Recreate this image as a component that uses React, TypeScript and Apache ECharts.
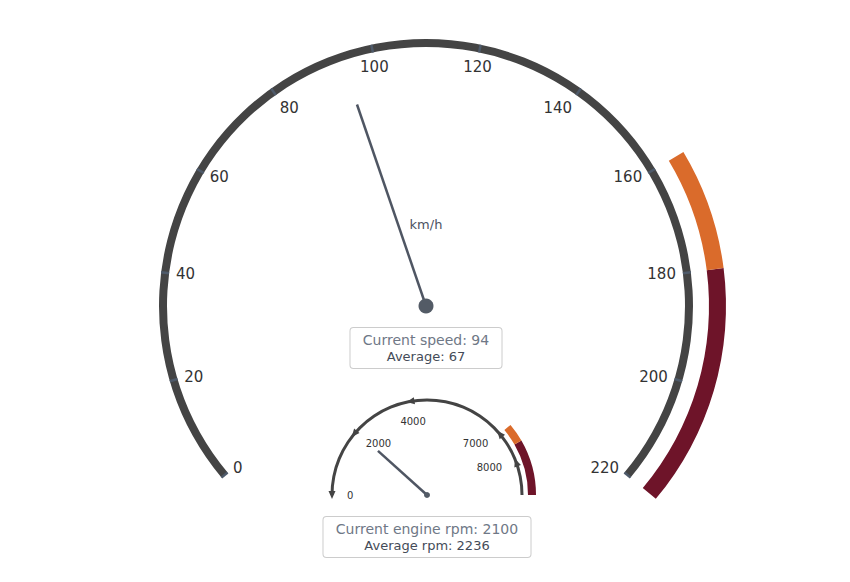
import { useEffect, useRef } from "react";
import * as echarts from "echarts";

// speedometer
const speedRange = [0, 220];
const speedStep = 20;
const speedValues = [94];
const speedAverages = [67];
const speedBands = [
  [160, 180],
  [180, 220],
];

// rev counter
const rpmRange = [0, 9000];
const rpmStep = 1000;
const rpmTicks = [0, 2000, 4000, 7000, 8000];
const rpmValues = [2100];
const rpmAverages = [2236];
const rpmBands = [
  [7000, 7500],
  [7500, 9000],
];

const FONT = "DejaVu Sans";
const bandColors = ["#DA6B2B", "#6E1429"];

function bandStops(bands: number[][], max: number) {
  const stops: [number, string][] = [[bands[0][0] / max, "rgba(0,0,0,0)"]];
  bands.forEach((b, i) => stops.push([b[1] / max, bandColors[i]]));
  return stops;
}

export default function App() {
  const chartRef = useRef<HTMLDivElement>(null);

  useEffect(() => {
    if (!chartRef.current) return;
    document.body.style.margin = "0";
    const chart = echarts.init(chartRef.current, null, { renderer: "svg" });

    const hidden = {
      axisLine: { show: false },
      axisTick: { show: false },
      splitLine: { show: false, length: 0 },
      axisLabel: { show: false },
      pointer: { show: false },
      anchor: { show: false },
      title: { show: false },
      detail: { show: false },
    };

    const detailBox = (w: number) => ({
      backgroundColor: "#fff",
      borderColor: "#cccccc",
      borderWidth: 1,
      borderRadius: 3,
      width: w,
      height: 32,
      padding: [4, 0],
      offsetCenter: [0, 42],
      fontWeight: "normal",
      fontFamily: FONT,
      rich: {
        a: { fontSize: 14, lineHeight: 16, color: "#6f7886", fontFamily: FONT, fontWeight: "normal", align: "center" },
        b: { fontSize: 13, lineHeight: 16, color: "#444b58", fontFamily: FONT, fontWeight: "normal", align: "center" },
      },
    });

    const option: any = {
      animation: false,
      backgroundColor: "#fff",
      series: [
        // speed bands
        {
          type: "gauge",
          center: [426, 306],
          radius: 300,
          startAngle: 220,
          endAngle: -40,
          min: speedRange[0],
          max: speedRange[1],
          ...hidden,
          axisLine: {
            show: true,
            lineStyle: { width: 17, color: bandStops(speedBands, speedRange[1]) },
          },
          data: [],
        },
        // speed dial
        {
          type: "gauge",
          center: [426, 306],
          radius: 267,
          startAngle: 220,
          endAngle: -40,
          min: speedRange[0],
          max: speedRange[1],
          splitNumber: (speedRange[1] - speedRange[0]) / speedStep,
          axisLine: { lineStyle: { width: 8, color: [[1, "#444444"]] } },
          axisTick: { show: false },
          splitLine: {
            show: true,
            length: 8,
            distance: -8,
            lineStyle: { color: "#4e5a6a", width: 2.5 },
          },
          axisLabel: {
            distance: 15,
            color: "#333333",
            fontSize: 15,
            fontFamily: FONT,
          },
          pointer: {
            icon: "rect",
            length: 213,
            width: 2.5,
            itemStyle: { color: "#4f5663" },
          },
          anchor: {
            show: true,
            showAbove: true,
            size: 15,
            itemStyle: { color: "#535b66" },
          },
          title: {
            offsetCenter: [0, -82],
            fontSize: 13,
            color: "#4b5262",
            fontFamily: FONT,
          },
          detail: {
            ...detailBox(151),
            formatter: (v: number) =>
              `{a|Current speed: ${v}}\n{b|Average: ${speedAverages[0]}}`,
          },
          data: speedValues.map((v) => ({ value: v, name: "km/h" })),
        },
        // rpm bands
        {
          type: "gauge",
          center: [427, 495],
          radius: 109,
          startAngle: 180,
          endAngle: 0,
          min: rpmRange[0],
          max: rpmRange[1],
          ...hidden,
          axisLine: {
            show: true,
            lineStyle: { width: 8, color: bandStops(rpmBands, rpmRange[1]) },
          },
          data: [],
        },
        // rpm tick markers
        {
          type: "gauge",
          center: [427, 495],
          radius: 96.5,
          startAngle: 180,
          endAngle: 0,
          min: rpmRange[0],
          max: rpmRange[1],
          ...hidden,
          pointer: {
            show: true,
            icon: "path://M10,0L0,5L10,10Z",
            width: 8,
            length: 7,
            offsetCenter: [0, -91.5],
            itemStyle: { color: "#444444" },
          },
          data: rpmTicks.map((v) => ({ value: v })),
        },
        // rpm dial
        {
          type: "gauge",
          center: [427, 495],
          radius: 96.5,
          startAngle: 180,
          endAngle: 0,
          min: rpmRange[0],
          max: rpmRange[1],
          splitNumber: (rpmRange[1] - rpmRange[0]) / rpmStep,
          axisLine: { lineStyle: { width: 3, color: [[1, "#444444"]] } },
          axisTick: { show: false },
          splitLine: { show: false, length: 0 },
          axisLabel: {
            distance: 6.5,
            color: "#333333",
            fontSize: 10,
            fontFamily: FONT,
            formatter: (v: number) => (rpmTicks.includes(Math.round(v)) ? String(Math.round(v)) : ""),
          },
          pointer: {
            icon: "rect",
            length: 66,
            width: 2.5,
            itemStyle: { color: "#4f5663" },
          },
          anchor: {
            show: true,
            showAbove: true,
            size: 6,
            itemStyle: { color: "#535b66" },
          },
          title: { show: false },
          detail: {
            ...detailBox(207),
            formatter: (v: number) =>
              `{a|Current engine rpm: ${v}}\n{b|Average rpm: ${rpmAverages[0]}}`,
          },
          data: rpmValues.map((v) => ({ value: v })),
        },
      ],
    };

    chart.setOption(option);
    return () => chart.dispose();
  }, []);

  return <div ref={chartRef} style={{ width: 850, height: 582 }} />;
}
